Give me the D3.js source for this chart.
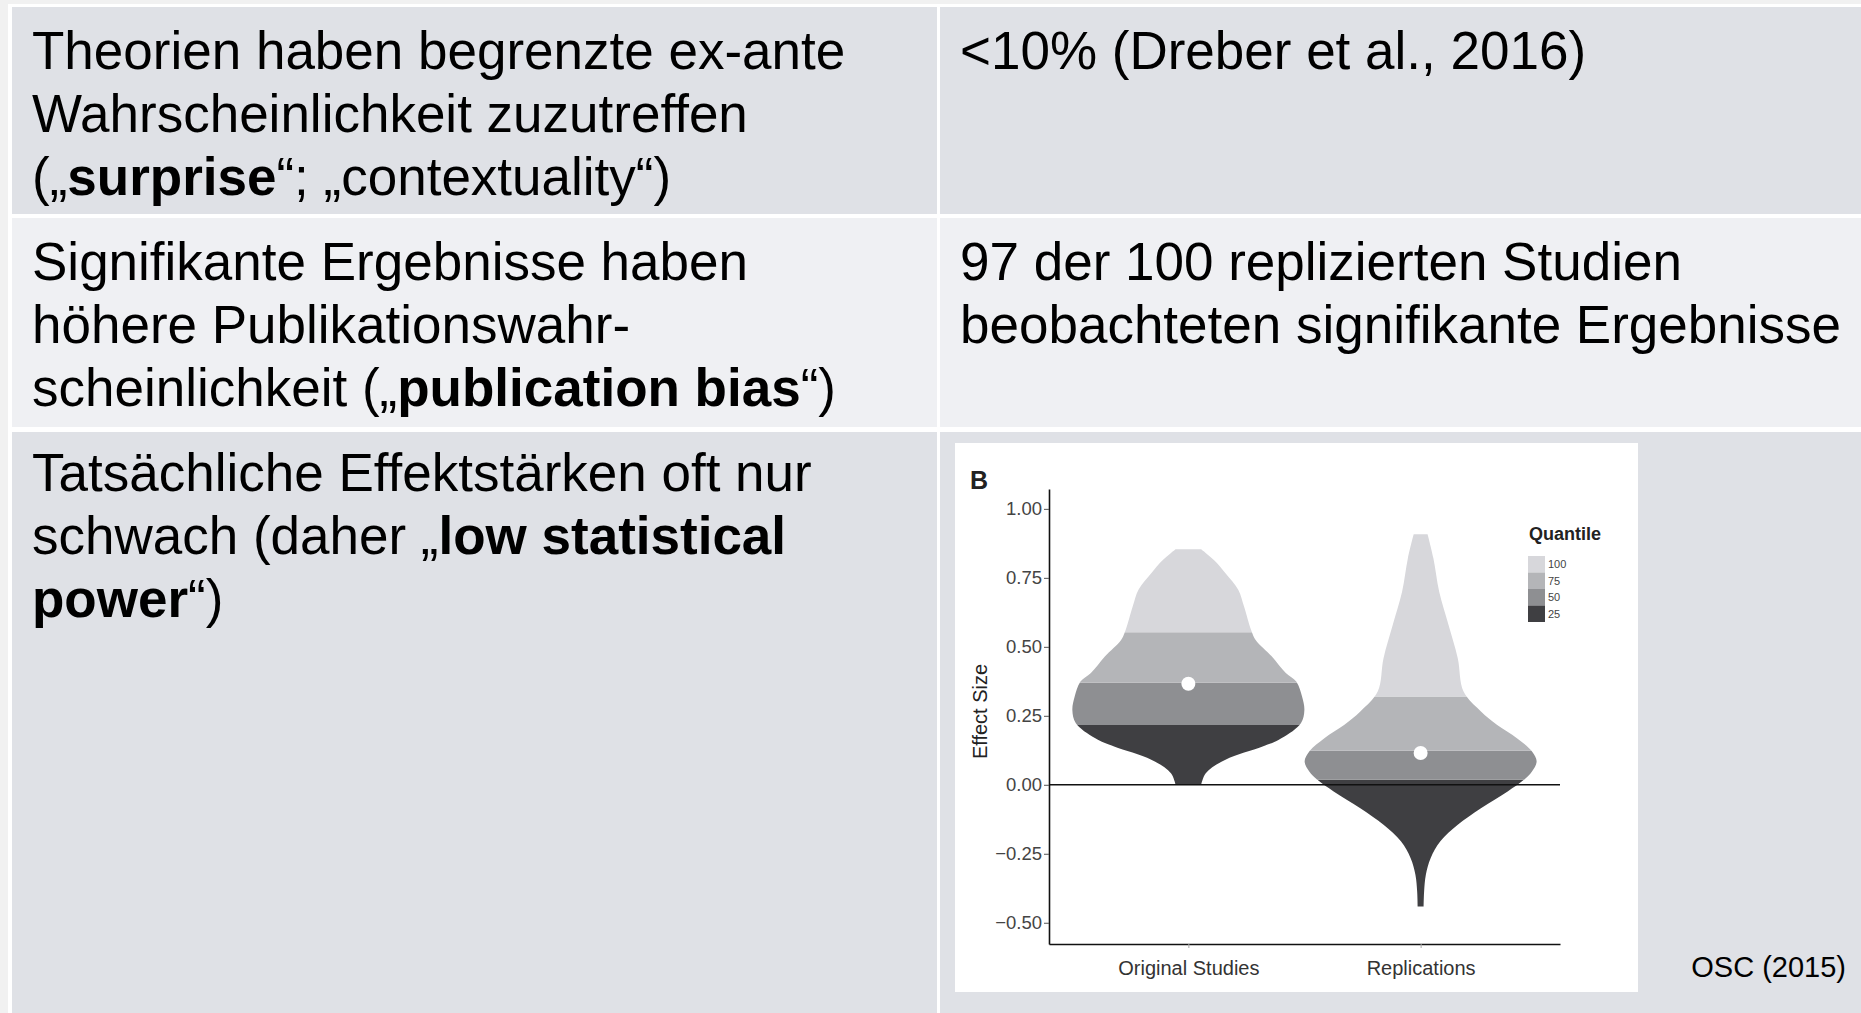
<!DOCTYPE html>
<html>
<head>
<meta charset="utf-8">
<script src="https://cdn.jsdelivr.net/npm/d3@7"></script>
<style>
  html, body { margin: 0; padding: 0; background: #f1f1f1; overflow: hidden; }
  svg { display: block; font-family: "Liberation Sans", Arial, sans-serif; }
</style>
</head>
<body>
<script>
// ---- chart data ----
const categories = ["Original Studies", "Replications"];

// effect size (y) and relative violin width (density) for each study type
const originalEffect  = [0, 0.042, 0.091, 0.139, 0.163, 0.223, 0.27, 0.32, 0.374, 0.405, 0.465, 0.525, 0.562, 0.646, 0.707, 0.767, 0.815, 0.854];
const originalDensity = [0.11, 0.15, 0.32, 0.64, 0.78, 0.97, 1.0, 0.98, 0.93, 0.84, 0.72, 0.58, 0.54, 0.48, 0.43, 0.32, 0.22, 0.11];

const replicationEffect  = [-0.441, -0.387, -0.326, -0.266, -0.205, -0.145, -0.085, -0.024, 0.018, 0.048, 0.085, 0.121, 0.169, 0.217, 0.266, 0.338, 0.459, 0.58, 0.70, 0.821, 0.908];
const replicationDensity = [0.026, 0.03, 0.045, 0.086, 0.17, 0.32, 0.52, 0.75, 0.89, 0.96, 1.0, 0.96, 0.83, 0.66, 0.52, 0.37, 0.32, 0.24, 0.16, 0.11, 0.06];

// 25th / 50th / 75th percentile cut points
const originalQuantiles    = [0.217, 0.37, 0.553];
const replicationQuantiles = [0.018, 0.123, 0.32];
const means = [0.366, 0.115];

const yTicks = [-0.5, -0.25, 0, 0.25, 0.5, 0.75, 1];
const quantileLabels = ["100", "75", "50", "25"];
const quantileColors = ["#d7d7db", "#b4b5b8", "#8e8f92", "#3f3f42"];

// ---- slide text ----
const leftText = [
  [[["Theorien haben begrenzte ex-ante"]], [["Wahrscheinlichkeit zuzutreffen"]],
   [["(„"], ["surprise", true], ["“; „contextuality“)"]]],
  [[["Signifikante Ergebnisse haben"]], [["höhere Publikationswahr-"]],
   [["scheinlichkeit („"], ["publication bias", true], ["“)"]]],
  [[["Tatsächliche Effektstärken oft nur"]],
   [["schwach (daher „"], ["low statistical", true]],
   [["power", true], ["“)"]]]
];
const rightText = [
  [[["<10% (Dreber et al., 2016)"]]],
  [[["97 der 100 replizierten Studien"]], [["beobachteten signifikante Ergebnisse"]]],
  []
];
const sourceNote = "OSC (2015)";

const width = 1861;
const height = 1013;

const svg = d3.select("body")
  .append("svg")
    .attr("width", width)
    .attr("height", height)
    .attr("viewBox", [0, 0, width, height]);

// table background
svg.append("rect").attr("width", width).attr("height", height).attr("fill", "#f1f1f1");
svg.append("rect").attr("x", 8).attr("y", 4).attr("width", width - 8).attr("height", height - 4).attr("fill", "#ffffff");

const rowBands = [[7, 214, "#dfe1e6"], [218, 427, "#eff0f3"], [432, height, "#dfe1e6"]];
const colBands = [[12, 937], [940, width]];

rowBands.forEach(([y0, y1, fill]) => {
  colBands.forEach(([x0, x1]) => {
    svg.append("rect")
      .attr("x", x0).attr("y", y0)
      .attr("width", x1 - x0).attr("height", y1 - y0)
      .attr("fill", fill);
  });
});

const lineHeight = 63;
const rowBaselines = [69, 280, 491];

function writeLines(lines, x, y0) {
  lines.forEach((segs, i) => {
    const t = svg.append("text")
      .attr("x", x)
      .attr("y", y0 + i * lineHeight)
      .attr("font-size", 53)
      .attr("fill", "#000");
    segs.forEach(([s, bold]) => {
      t.append("tspan").attr("font-weight", bold ? "bold" : null).text(s);
    });
  });
}

leftText.forEach((lines, r) => writeLines(lines, 32, rowBaselines[r]));
rightText.forEach((lines, r) => writeLines(lines, 960, rowBaselines[r]));

svg.append("text")
  .attr("x", 1846)
  .attr("y", 977)
  .attr("text-anchor", "end")
  .attr("font-size", 29)
  .text(sourceNote);

// ---- the violin figure ----
svg.append("rect")
  .attr("x", 955).attr("y", 443)
  .attr("width", 683).attr("height", 549)
  .attr("fill", "#ffffff");

const x = d3.scalePoint()
  .domain(categories)
  .range([1049, 1560])
  .padding(0.6);

const y = d3.scaleLinear()
  .domain([-0.577, 1.072])
  .range([944, 489]);

const w = d3.scaleLinear()
  .domain([0, 1])
  .range([0, 116]);

const violins = [
  { name: categories[0], effect: originalEffect, density: originalDensity, q: originalQuantiles, mean: means[0] },
  { name: categories[1], effect: replicationEffect, density: replicationDensity, q: replicationQuantiles, mean: means[1] }
];

const defs = svg.append("defs");

violins.forEach((v, vi) => {
  const cx = x(v.name);
  const pts = v.effect.map((e, i) => [e, v.density[i]]);
  const area = d3.area()
      .curve(d3.curveCatmullRom)
      .y(d => y(d[0]))
      .x0(d => cx - w(d[1]))
      .x1(d => cx + w(d[1]));

  const cuts = [v.effect[0], ...v.q, v.effect[v.effect.length - 1]];
  // band 0 = lowest quarter (darkest)
  for (let b = 0; b < 4; b++) {
    const id = `clip-${vi}-${b}`;
    defs.append("clipPath").attr("id", id)
      .append("rect")
        .attr("x", cx - w(1.2))
        .attr("width", w(2.4))
        .attr("y", y(cuts[b + 1]) - (b === 3 ? 2 : 0))
        .attr("height", y(cuts[b]) - y(cuts[b + 1]) + (b === 0 || b === 3 ? 2 : 0));
    svg.append("path")
      .attr("d", area(pts))
      .attr("fill", quantileColors[3 - b])
      .attr("clip-path", `url(#${id})`);
  }

  svg.append("circle")
    .attr("cx", cx)
    .attr("cy", y(v.mean))
    .attr("r", 7)
    .attr("fill", "#ffffff");
});

// zero reference line
svg.append("line")
  .attr("x1", x.range()[0]).attr("x2", x.range()[1])
  .attr("y1", y(0)).attr("y2", y(0))
  .attr("stroke", "#111")
  .attr("stroke-width", 1.6);

// Y Axis
svg.append("g")
    .attr("transform", `translate(${x.range()[0]},0)`)
    .call(d3.axisLeft(y).tickValues(yTicks).tickFormat(d3.format(".2f")).tickSize(5).tickPadding(2).tickSizeOuter(0))
    .call(g => g.select(".domain").attr("stroke", "#111").attr("stroke-width", 1.6))
    .call(g => g.selectAll(".tick line").attr("stroke", "#555"))
    .call(g => g.selectAll(".tick text")
      .attr("font-size", 18.5)
      .attr("font-family", "Liberation Sans, Arial, sans-serif")
      .attr("fill", "#444"));

// X Axis
svg.append("g")
    .attr("transform", `translate(0,${y.range()[0]})`)
    .call(d3.axisBottom(x).tickSize(4).tickPadding(13).tickSizeOuter(0))
    .call(g => g.select(".domain").attr("stroke", "#111").attr("stroke-width", 1.6))
    .call(g => g.selectAll(".tick line").attr("stroke", "#aaa"))
    .call(g => g.selectAll(".tick text")
      .attr("font-size", 20)
      .attr("font-family", "Liberation Sans, Arial, sans-serif")
      .attr("fill", "#333"));

// Y-axis label
svg.append("text")
  .attr("text-anchor", "middle")
  .attr("transform", `translate(987,${(y.range()[0] + y.range()[1]) / 2 - 5}) rotate(-90)`)
  .attr("font-size", 20)
  .attr("fill", "#222")
  .text("Effect Size");

// panel tag
svg.append("text")
  .attr("x", 970)
  .attr("y", 489)
  .attr("font-size", 25)
  .attr("font-weight", "bold")
  .attr("fill", "#222")
  .text("B");

// Legend
const legend = svg.append("g").attr("transform", "translate(1528,540)");
legend.append("text")
  .attr("x", 1)
  .attr("font-size", 18)
  .attr("font-weight", "bold")
  .attr("fill", "#222")
  .text("Quantile");

const keyH = 16.5;
legend.selectAll("rect.key")
  .data(quantileLabels)
  .join("rect")
    .attr("class", "key")
    .attr("x", 0)
    .attr("y", (d, i) => 16 + i * keyH)
    .attr("width", 17)
    .attr("height", keyH)
    .attr("fill", (d, i) => quantileColors[i]);

legend.selectAll("text.lab")
  .data(quantileLabels)
  .join("text")
    .attr("class", "lab")
    .attr("x", 20)
    .attr("y", (d, i) => 16 + i * keyH + keyH / 2 + 4)
    .attr("font-size", 11)
    .attr("fill", "#444")
    .text(d => d);
</script>
</body>
</html>
